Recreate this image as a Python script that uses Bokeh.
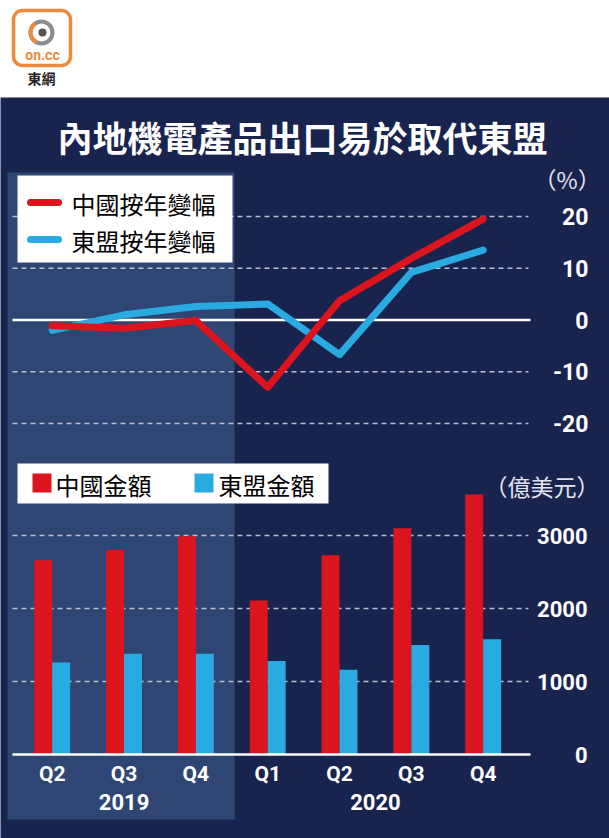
from bokeh.plotting import figure
from bokeh.models import BoxAnnotation, Label, ColumnDataSource, Range1d
from bokeh.layouts import column
from bokeh.transform import dodge
from bokeh.core.properties import value
from bokeh.embed import file_html
from bokeh.resources import INLINE

# ---------------- data ----------------
years = ["2019", "2019", "2019", "2020", "2020", "2020", "2020"]
quarters = ["Q2", "Q3", "Q4", "Q1", "Q2", "Q3", "Q4"]
china_yoy = [-1.1, -1.6, -0.1, -13.0, 3.7, 11.9, 19.5]
asean_yoy = [-2.0, 1.0, 2.6, 3.1, -6.7, 9.2, 13.5]
china_amt = [2660, 2800, 2990, 2110, 2730, 3100, 3560]
asean_amt = [1260, 1380, 1380, 1280, 1160, 1500, 1580]
yoy_ticks = [-20, -10, 0, 10, 20]
amt_ticks = [0, 1000, 2000, 3000]

title_text = "內地機電產品出口易於取代東盟"
yoy_labels = ["中國按年變幅", "東盟按年變幅"]
amt_labels = ["中國金額", "東盟金額"]
yoy_unit = "（%）"
amt_unit = "（億美元）"

# ---------------- style / geometry ----------------
NAVY = "#19244e"
SHADE = "#2f4573"
RED = "#dc141e"
BLUE = "#29abe2"
GRID = "#b8c0d6"
CJK = "Noto Sans CJK TC"
NUM = "Roboto"
W = 609
TOP = 97            # height of white header
H = 838 - TOP       # height of the navy chart panel
X0 = 51.7           # pixel centre of first category
UNIT = 71.83        # pixels per category
BAR0 = 754          # pixel row of bar baseline
BAR_PX = 73 / 1000  # pixels per unit of bar value
YOY0 = 319.5        # pixel row of 0 %
YOY_PX = 5.175      # pixels per 1 %


def xpx(px):
    return (px - X0) / UNIT


def ybar(py):
    return (BAR0 - py) / BAR_PX


def yyoy(py):
    return (YOY0 - py) / YOY_PX


idx = list(range(len(quarters)))
src = ColumnDataSource(dict(x=idx, q=quarters, china_yoy=china_yoy,
                            asean_yoy=asean_yoy, china_amt=china_amt,
                            asean_amt=asean_amt))

# ---------------- header (logo) ----------------
pa = figure(width=W, height=TOP, x_range=Range1d(0, W), y_range=Range1d(TOP, 0),
            toolbar_location=None, output_backend="svg", min_border=0,
            x_axis_location=None, y_axis_location=None,
            background_fill_color="white", border_fill_color="white",
            outline_line_color=None)
pa.grid.visible = False
pa.quad(left=[13], right=[70], top=[10], bottom=[65], fill_color="white",
        line_color="#ef8a3a", line_width=3.5, border_radius=9)
pa.annulus(x=[41], y=[32], inner_radius=9, outer_radius=13, fill_color="#8c8c8c",
           line_color=None)
pa.annular_wedge(x=[41], y=[32], inner_radius=9, outer_radius=13, start_angle=2.2,
                 end_angle=4.2, fill_color="#ef8a3a", line_color=None)
pa.circle(x=[42], y=[32], radius=4, fill_color="#555555", line_color=None)
pa.text(x=[42], y=[54], text=["on.cc"], text_align="center", text_baseline="middle",
        text_font=value(NUM), text_font_style="bold", text_font_size="14px",
        text_color="#ef8a3a")
pa.text(x=[41], y=[77], text=["東網"], text_align="center", text_baseline="middle",
        text_font=value(CJK), text_font_style="bold", text_font_size="14px",
        text_color="#222222")

# ---------------- chart panel ----------------
p = figure(width=W, height=H,
           x_range=Range1d(xpx(0), xpx(W)),
           y_range=Range1d(ybar(838), ybar(TOP)),
           toolbar_location=None, output_backend="svg", min_border=0,
           x_axis_location=None, y_axis_location=None,
           background_fill_color=NAVY, border_fill_color=NAVY,
           outline_line_color=None)
p.extra_y_ranges = {"yoy": Range1d(yyoy(838), yyoy(TOP))}
p.grid.visible = False

# 2019 highlight band
p.add_layout(BoxAnnotation(left=7, right=234, top=172 - TOP, bottom=819 - TOP,
                           left_units="canvas", right_units="canvas",
                           top_units="canvas", bottom_units="canvas",
                           fill_color=SHADE, fill_alpha=1, line_color=None,
                           level="underlay"))

# ---- year-on-year lines ----
gl = [t for t in yoy_ticks if t != 0]
p.segment(x0=[xpx(12)] * len(gl), x1=[xpx(528)] * len(gl), y0=gl, y1=gl,
          y_range_name="yoy", line_color=GRID, line_width=1.5, line_dash="5 4")
p.segment(x0=[xpx(12)], x1=[xpx(530)], y0=[0], y1=[0], y_range_name="yoy",
          line_color="white", line_width=2.5)
p.line('x', 'asean_yoy', source=src, y_range_name="yoy", line_color=BLUE,
       line_width=7, line_cap="round", line_join="round")
p.line('x', 'china_yoy', source=src, y_range_name="yoy", line_color=RED,
       line_width=7, line_cap="round", line_join="round")
p.text(x=[xpx(588)] * len(yoy_ticks), y=yoy_ticks, text=[str(t) for t in yoy_ticks],
       y_range_name="yoy", text_align="right", text_baseline="middle",
       text_font=value(NUM), text_font_style="bold", text_font_size="23px",
       text_color="white")

# legend of the line chart
p.quad(left=[xpx(17)], right=[xpx(232)], top=[yyoy(175)], bottom=[yyoy(262)],
       y_range_name="yoy", fill_color="white", line_color=None)
leg_y1 = [yyoy(202), yyoy(239)]
p.segment(x0=[xpx(30)] * 2, x1=[xpx(58)] * 2, y0=leg_y1, y1=leg_y1,
          y_range_name="yoy", line_color=[RED, BLUE], line_width=7, line_cap="round")
p.text(x=[xpx(71)] * 2, y=[yyoy(203), yyoy(240)], text=yoy_labels,
       y_range_name="yoy", text_align="left", text_baseline="middle",
       text_font=value(CJK), text_font_size="24px", text_color="black")

# ---- export values bars ----
gl2 = [t for t in amt_ticks if t != 0]
p.segment(x0=[xpx(12)] * len(gl2), x1=[xpx(528)] * len(gl2), y0=gl2, y1=gl2,
          line_color=GRID, line_width=1.5, line_dash="5 4")
p.vbar(x=dodge('x', -0.125), top='china_amt', width=0.25, source=src,
       fill_color=RED, line_color=None)
p.vbar(x=dodge('x', 0.125), top='asean_amt', width=0.25, source=src,
       fill_color=BLUE, line_color=None)
p.segment(x0=[xpx(12)], x1=[xpx(530)], y0=[0], y1=[0], line_color="white",
          line_width=2.5)
p.text(x=[xpx(587)] * len(amt_ticks), y=amt_ticks, text=[str(t) for t in amt_ticks],
       text_align="right", text_baseline="middle", text_font=value(NUM),
       text_font_style="bold", text_font_size="22px", text_color="white")

# legend of the bar chart
p.quad(left=[xpx(17)], right=[xpx(328)], top=[ybar(463)], bottom=[ybar(503)],
       fill_color="white", line_color=None)
p.quad(left=[xpx(32), xpx(194)], right=[xpx(51), xpx(213)],
       top=[ybar(473)] * 2, bottom=[ybar(492)] * 2, fill_color=[RED, BLUE],
       line_color=None)
p.text(x=[xpx(55), xpx(218)], y=[ybar(483.5)] * 2, text=amt_labels,
       text_align="left", text_baseline="middle", text_font=value(CJK),
       text_font_size="24px", text_color="black")

# ---- category labels ----
p.text(x='x', y=ybar(773), text='q', source=src, text_align="center",
       text_baseline="middle", text_font=value(NUM), text_font_style="bold",
       text_font_size="21px", text_color="white")
uyears = sorted(set(years))
ypos = [sum(i for i, y in zip(idx, years) if y == u) / years.count(u) for u in uyears]
p.text(x=ypos, y=[ybar(801)] * len(uyears), text=uyears, text_align="center",
       text_baseline="middle", text_font=value(NUM), text_font_style="bold",
       text_font_size="22px", text_color="white")

# ---- title and unit labels ----
p.add_layout(Label(x=302, y=136 - TOP, x_units="canvas", y_units="canvas",
                   text=title_text, text_align="center", text_baseline="middle",
                   text_font=CJK, text_font_style="bold", text_font_size="35px",
                   text_color="white"))
p.add_layout(Label(x=533, y=178 - TOP, x_units="canvas", y_units="canvas",
                   text=yoy_unit, text_align="left", text_baseline="middle",
                   text_font=CJK, text_font_size="23px", text_color="#e2e5ee"))
p.add_layout(Label(x=484, y=485 - TOP, x_units="canvas", y_units="canvas",
                   text=amt_unit, text_align="left", text_baseline="middle",
                   text_font=CJK, text_font_size="23px", text_color="#e2e5ee"))

layout = column(pa, p, spacing=0)
open("out.html", "w").write(file_html(layout, INLINE))
